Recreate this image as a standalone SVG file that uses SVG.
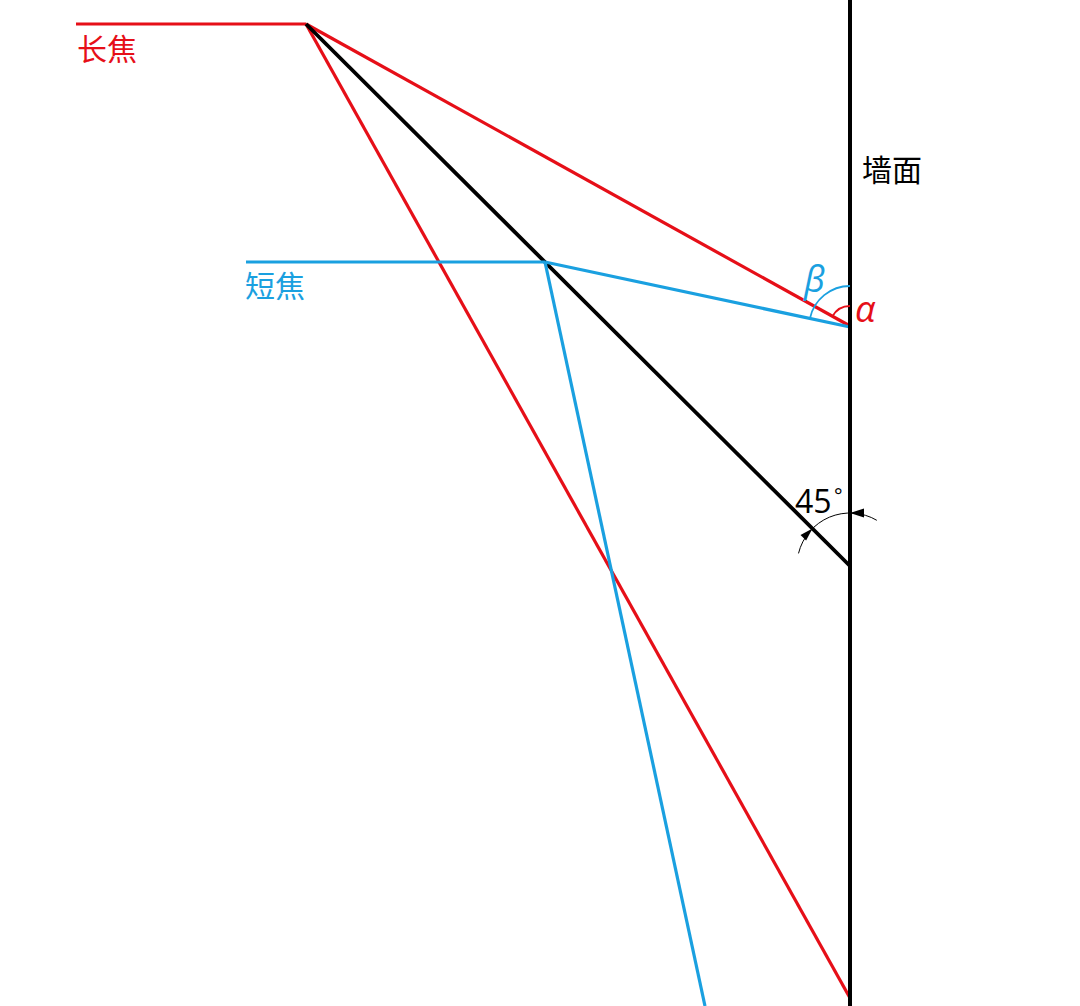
<svg xmlns="http://www.w3.org/2000/svg" width="1080" height="1006" viewBox="0 0 1080 1006">
<style>
.red{stroke:#e60f18;stroke-width:3.2;fill:none}
.blue{stroke:#1aa0e0;stroke-width:3.2;fill:none}
.blk{stroke:#000;stroke-width:3.8;fill:none}
.thin{stroke:#000;stroke-width:1;fill:none}
.arcb{stroke:#1aa0e0;stroke-width:1.8;fill:none}
.arcr{stroke:#e60f18;stroke-width:1.8;fill:none}
.lbl{font-family:"Open Sans","Noto Sans CJK SC",sans-serif;font-size:30px}
.grk{font-family:"Open Sans","DejaVu Sans",sans-serif;font-style:italic;font-size:36px}
</style>
<rect width="1080" height="1006" fill="#fff"/>
<g id="connectors">
<line class="red" x1="76" y1="24" x2="306" y2="24"/>
<line class="red" x1="306" y1="24" x2="850" y2="326"/>
<line class="red" x1="306" y1="24" x2="850" y2="998"/>
<line class="blk" x1="306" y1="24" x2="850" y2="566"/>
<line class="blue" x1="246" y1="262" x2="545" y2="262"/>
<line class="blue" x1="545" y1="262" x2="850" y2="327"/>
<line class="blue" x1="545" y1="262" x2="705" y2="1006"/>
</g>
<g id="wall">
<line x1="850" y1="0" x2="850" y2="1006" stroke="#000" stroke-width="4"/>
<text class="lbl" x="862" y="181" fill="#000">墙面</text>
</g>
<g id="long-focus">
<text class="lbl" x="77" y="60" fill="#e60f18">长焦</text>
</g>
<g id="short-focus">
<text class="lbl" x="245" y="297" fill="#1aa0e0">短焦</text>
</g>
<g id="angle-beta">
<path class="arcb" d="M850,286 A41,41 0 0 0 809.9,318.5"/>
<text class="grk" x="804" y="292" fill="#1aa0e0">β</text>
</g>
<g id="angle-alpha">
<path class="arcr" d="M850,306 A20,20 0 0 0 832.5,316.3"/>
<text class="grk" x="855" y="322" fill="#e60f18">α</text>
</g>
<g id="angle-45">
<path class="thin" d="M798.5,553.4 A53,53 0 0 1 876.8,520.3"/>
<polygon points="812.5,528.5 806.1,540.5 800.5,534.9" fill="#000"/>
<polygon points="850,513 864,508.5 864,517.5" fill="#000"/>
<text x="795" y="513" font-family="Open Sans, sans-serif" font-size="32" fill="#000">45</text>
<text x="834" y="503" font-family="Open Sans, sans-serif" font-size="20" fill="#000">°</text>
</g>
</svg>
